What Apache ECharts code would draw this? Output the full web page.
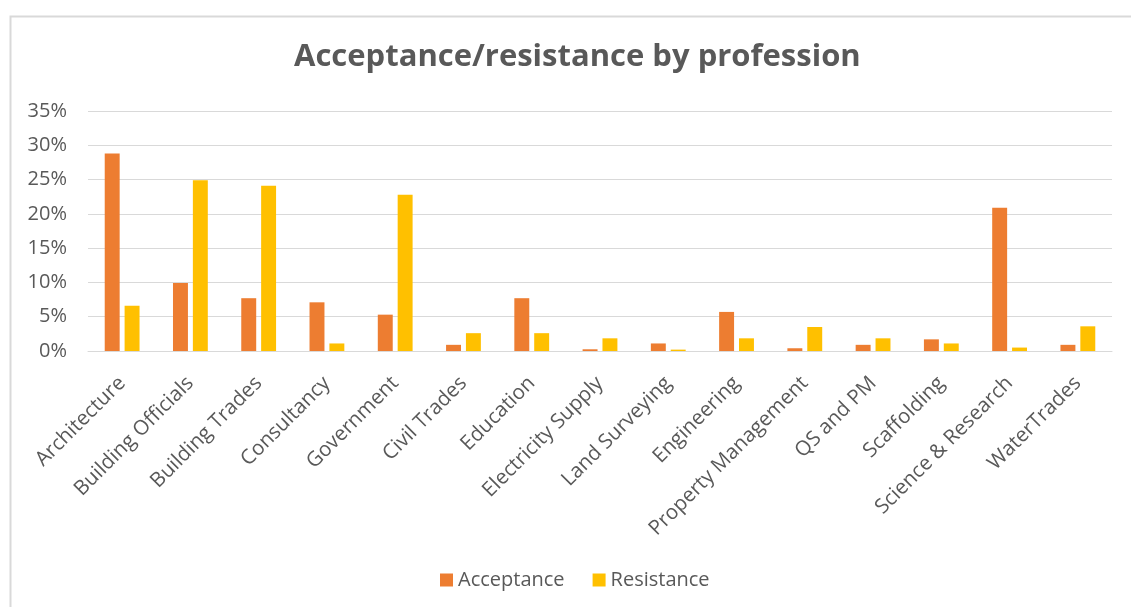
<!DOCTYPE html>
<html>
<head>
<meta charset="utf-8">
<script src="https://cdn.jsdelivr.net/npm/echarts@6/dist/echarts.min.js"></script>
<style>
  html, body { margin: 0; padding: 0; background: #fff; }
  #chart { width: 1131px; height: 607px; }
</style>
</head>
<body>
<div id="chart"></div>
<script>
const titleText = 'Acceptance/resistance by profession';
const categories = ['Architecture', 'Building Officials', 'Building Trades', 'Consultancy', 'Government',
  'Civil Trades', 'Education', 'Electricity Supply', 'Land Surveying', 'Engineering',
  'Property Management', 'QS and PM', 'Scaffolding', 'Science & Research', 'WaterTrades'];
const seriesNames = ['Acceptance', 'Resistance'];
const acceptance = [28.8, 9.9, 7.7, 7.1, 5.3, 0.9, 7.7, 0.25, 1.1, 5.7, 0.4, 0.9, 1.7, 20.9, 0.9];
const resistance = [6.6, 24.9, 24.1, 1.1, 22.8, 2.6, 2.6, 1.85, 0.2, 1.85, 3.5, 1.85, 1.1, 0.5, 3.6];
const yTicks = { min: 0, max: 35, interval: 5 };

const FONT = '"Open Sans", "DejaVu Sans", sans-serif';
const TXT = '#595959';
const chart = echarts.init(document.getElementById('chart'));
chart.setOption({
  backgroundColor: '#fff',
  animation: false,
  textStyle: { fontFamily: FONT },
  graphic: [{
    type: 'rect', left: 8, top: 14, z: -1,
    shape: { x: 0, y: 0, width: 1200, height: 700 },
    style: { fill: 'none', stroke: '#d9d9d9', lineWidth: 2 }
  }],
  title: {
    text: titleText, left: 289, top: 37,
    textStyle: { fontFamily: FONT, fontSize: 31, fontWeight: 'bold', color: TXT }
  },
  legend: {
    data: seriesNames, left: 435, top: 565, itemWidth: 13, itemHeight: 13, itemGap: 28,
    icon: 'rect',
    textStyle: { fontFamily: FONT, fontSize: 20, color: TXT }
  },
  grid: { left: 88, right: 19, top: 111, bottom: 256, containLabel: false },
  xAxis: {
    type: 'category', data: categories,
    axisLine: { lineStyle: { color: '#d9d9d9', width: 1 } },
    axisTick: { show: false },
    axisLabel: { rotate: 45, interval: 0, margin: 29, fontFamily: FONT, fontSize: 20.5, color: TXT }
  },
  yAxis: {
    type: 'value', min: yTicks.min, max: yTicks.max, interval: yTicks.interval,
    axisLine: { show: false }, axisTick: { show: false },
    splitLine: { lineStyle: { color: '#d9d9d9', width: 1 } },
    axisLabel: { formatter: '{value}%', margin: 21, fontFamily: FONT, fontSize: 20, color: TXT }
  },
  series: [
    { name: seriesNames[0], type: 'bar', data: acceptance, barGap: '33%', barCategoryGap: '49%',
      itemStyle: { color: '#ED7D31' } },
    { name: seriesNames[1], type: 'bar', data: resistance, barGap: '33%', barCategoryGap: '49%',
      itemStyle: { color: '#FFC000' } }
  ]
});
</script>
</body>
</html>
